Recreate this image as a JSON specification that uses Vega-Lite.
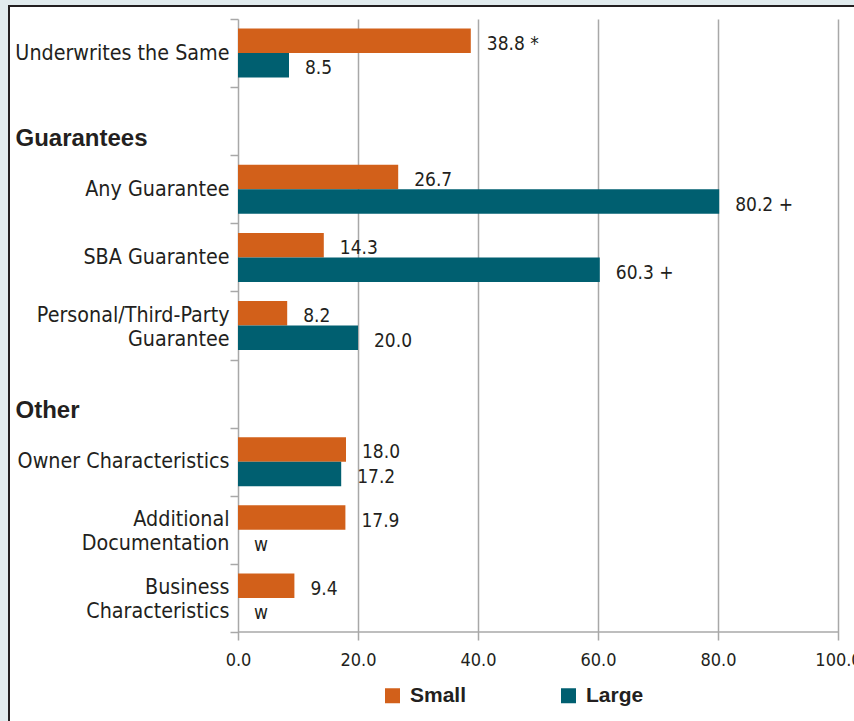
{
  "$schema": "https://vega.github.io/schema/vega-lite/v6.json",
  "width": 850,
  "height": 716,
  "padding": {"left": 9, "top": 6, "right": 0, "bottom": 0},
  "autosize": {"type": "none"},
  "background": "#e1ebee",
  "config": {
    "view": {"fill": "white", "stroke": "#231f20", "strokeWidth": 2},
    "font": "DejaVu Sans Condensed, sans-serif"
  },
  "data": {
    "values": [
      {"cat": "Underwrites the Same", "series": "Small", "value": 38.8, "label": "38.8 *"},
      {"cat": "Underwrites the Same", "series": "Large", "value": 8.5, "label": "8.5"},
      {"cat": "Any Guarantee", "series": "Small", "value": 26.7, "label": "26.7"},
      {"cat": "Any Guarantee", "series": "Large", "value": 80.2, "label": "80.2 +"},
      {"cat": "SBA Guarantee", "series": "Small", "value": 14.3, "label": "14.3"},
      {"cat": "SBA Guarantee", "series": "Large", "value": 60.3, "label": "60.3 +"},
      {"cat": "Personal/Third-Party|Guarantee", "series": "Small", "value": 8.2, "label": "8.2"},
      {"cat": "Personal/Third-Party|Guarantee", "series": "Large", "value": 20.0, "label": "20.0"},
      {"cat": "Owner Characteristics", "series": "Small", "value": 18.0, "label": "18.0"},
      {"cat": "Owner Characteristics", "series": "Large", "value": 17.2, "label": "17.2"},
      {"cat": "Additional|Documentation", "series": "Small", "value": 17.9, "label": "17.9"},
      {"cat": "Additional|Documentation", "series": "Large", "value": 0, "label": "w"},
      {"cat": "Business|Characteristics", "series": "Small", "value": 9.4, "label": "9.4"},
      {"cat": "Business|Characteristics", "series": "Large", "value": 0, "label": "w"}
    ]
  },
  "layer": [
    {
      "mark": {"type": "bar"},
      "encoding": {
        "y": {
          "field": "cat",
          "type": "nominal",
          "sort": null,
          "scale": {
            "domain": ["Underwrites the Same", "Guarantees", "Any Guarantee", "SBA Guarantee", "Personal/Third-Party|Guarantee", "Other", "Owner Characteristics", "Additional|Documentation", "Business|Characteristics"],
            "paddingInner": 0,
            "paddingOuter": 0.7561,
            "align": 0.1262
          },
          "axis": {
            "orient": "left",
            "offset": -229,
            "title": null,
            "domain": false,
            "ticks": true,
            "tickBand": "extent",
            "tickSize": 8,
            "tickColor": "#a8a8a8",
            "tickWidth": 1.5,
            "labelLimit": 0,
            "labelColor": "#231f20",
            "labelBaseline": "middle",
            "labelLineHeight": 24,
            "labelExpr": "split(datum.label, '|')",
            "labelFontSize": {"condition": {"test": "datum.value === 'Guarantees' || datum.value === 'Other'", "value": 24}, "value": 21.3},
            "labelFont": {"condition": {"test": "datum.value === 'Guarantees' || datum.value === 'Other'", "value": "Liberation Sans, Arial, sans-serif"}, "value": "DejaVu Sans Condensed, sans-serif"},
            "labelFontWeight": {"condition": {"test": "datum.value === 'Guarantees' || datum.value === 'Other'", "value": "bold"}, "value": "normal"},
            "labelAlign": {"condition": {"test": "datum.value === 'Guarantees' || datum.value === 'Other'", "value": "left"}, "value": "right"},
            "labelPadding": {"condition": {"test": "datum.value === 'Guarantees' || datum.value === 'Other'", "value": 215}, "value": 1},
            "labelOffset": {"condition": {"test": "datum.value === 'Guarantees' || datum.value === 'Other'", "value": 17}, "value": 0},
            "labelBaseline": {"condition": {"test": "datum.value === 'Personal/Third-Party|Guarantee' || datum.value === 'Additional|Documentation' || datum.value === 'Business|Characteristics'", "value": "bottom"}, "value": "middle"}
          }
        },
        "yOffset": {
          "field": "series",
          "type": "nominal",
          "scale": {"domain": ["Small", "Large"], "paddingInner": 0, "paddingOuter": 0.39}
        },
        "x": {
          "field": "value",
          "type": "quantitative",
          "stack": null,
          "scale": {"domain": [-38.1667, 103.5], "nice": false, "zero": false},
          "axis": {
            "orient": "bottom",
            "offset": -82,
            "values": [0, 20, 40, 60, 80, 100],
            "format": ".1f",
            "title": null,
            "grid": false,
            "domain": false,
            "tickSize": -621,
            "tickColor": "#a8a8a8",
            "tickWidth": 1.5,
            "labelPadding": 632,
            "labelFontSize": 18,
            "labelColor": "#231f20",
            "labelFlush": false
          }
        },
        "x2": {"datum": 0},
        "color": {
          "field": "series",
          "type": "nominal",
          "scale": {"domain": ["Small", "Large"], "range": ["#d2601a", "#005f70"]},
          "legend": {
            "orient": "none",
            "legendX": 373,
            "legendY": 679,
            "title": null,
            "direction": "horizontal",
            "columns": 2,
            "columnPadding": 91,
            "symbolType": "square",
            "symbolSize": 225,
            "symbolStrokeWidth": 0,
            "labelFont": "Liberation Sans, Arial, sans-serif",
            "labelFontWeight": "bold",
            "labelFontSize": 21,
            "labelColor": "#231f20",
            "labelOffset": 7,
            "padding": 0
          }
        }
      }
    },
    {
      "mark": {"type": "text", "align": "left", "baseline": "middle", "dx": 16, "dy": 3, "fontSize": 19, "color": "#231f20"},
      "encoding": {
        "y": {"field": "cat", "type": "nominal"},
        "yOffset": {"field": "series", "type": "nominal"},
        "x": {"field": "value", "type": "quantitative"},
        "text": {"field": "label"}
      }
    },
    {
      "data": {"values": [{}]},
      "mark": {"type": "rule", "color": "#a8a8a8", "strokeWidth": 1.5},
      "encoding": {
        "x": {"datum": 0},
        "x2": {"datum": 100},
        "y": {"datum": "Business|Characteristics", "bandPosition": 1}
      }
    }
  ]
}
